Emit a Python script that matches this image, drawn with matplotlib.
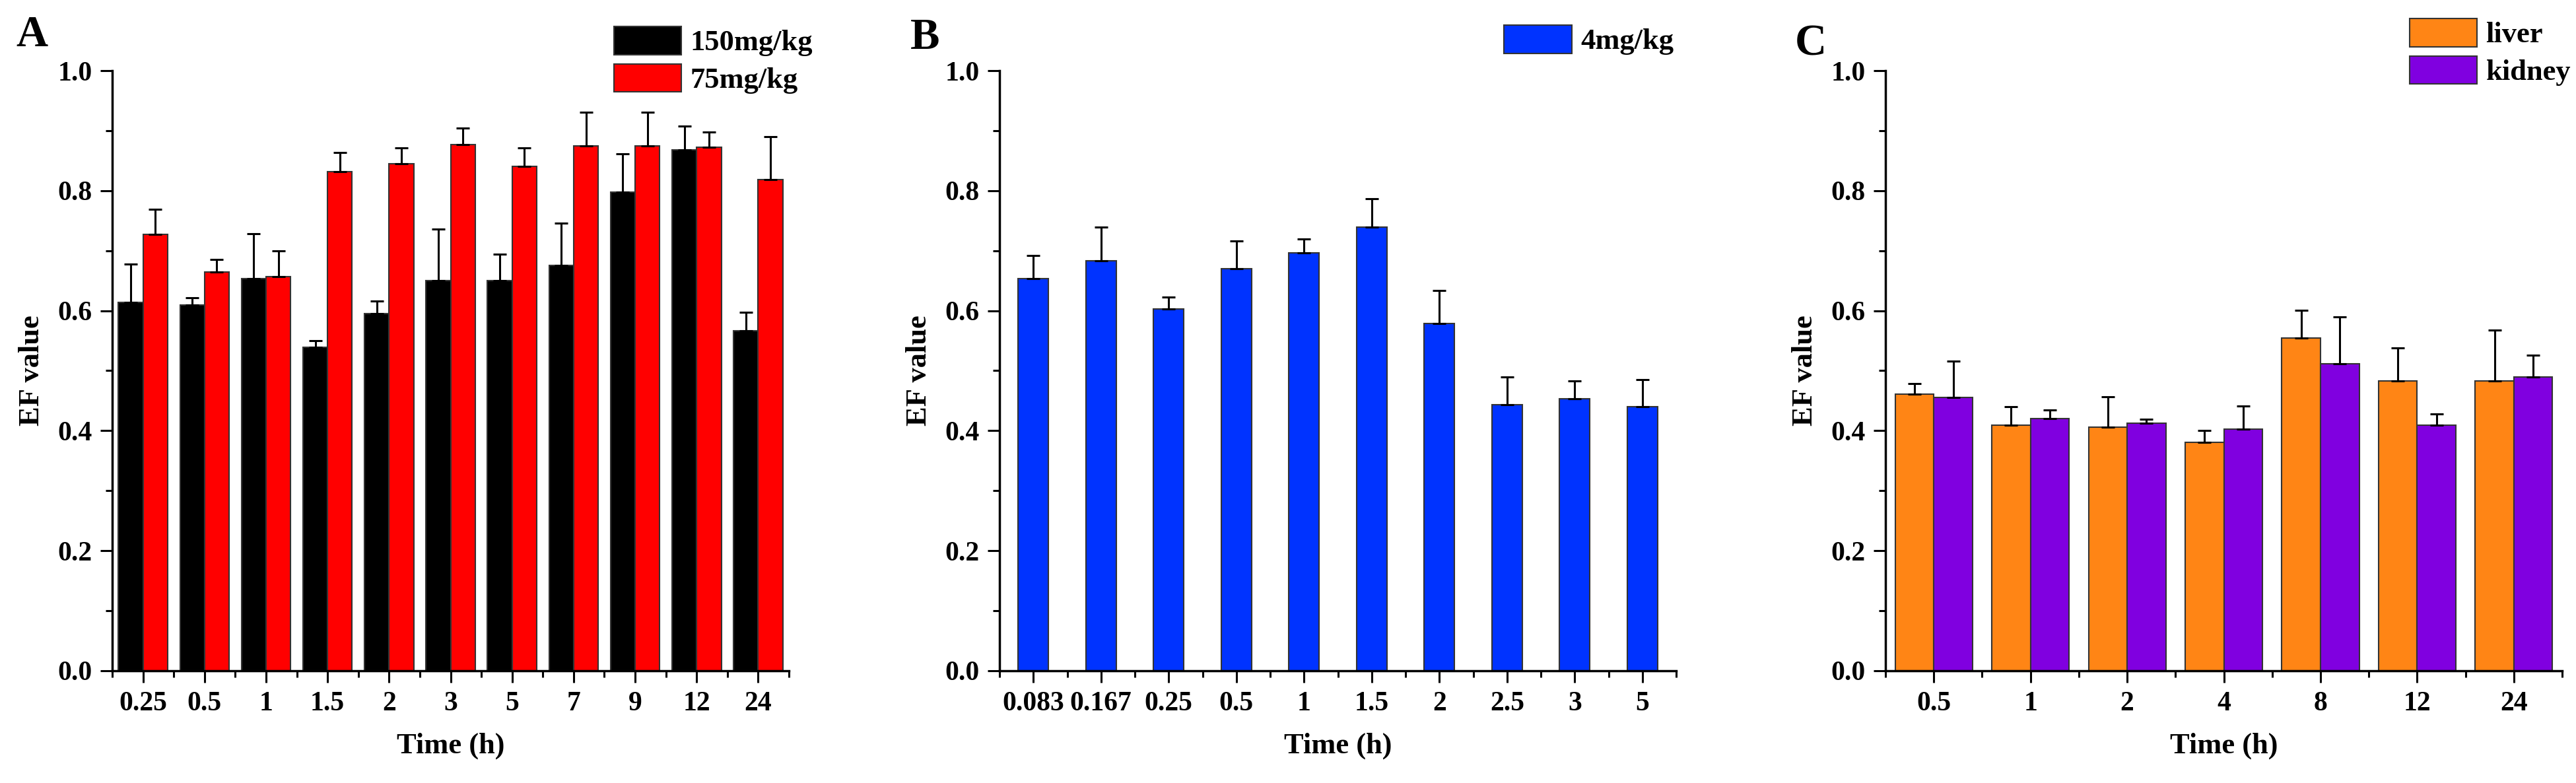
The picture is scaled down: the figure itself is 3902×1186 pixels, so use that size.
import matplotlib
matplotlib.use("Agg")
import matplotlib.pyplot as plt
import numpy as np

plt.rcParams['font.family'] = ['Liberation Serif', 'DejaVu Serif']
plt.rcParams['font.weight'] = 'bold'

# panel A data
times_a = ["0.25", "0.5", "1", "1.5", "2", "3", "5", "7", "9", "12", "24"]
ef_150 = [0.614, 0.609, 0.654, 0.539, 0.595, 0.650, 0.650, 0.675, 0.798, 0.868, 0.567]
err_150 = [0.064, 0.013, 0.074, 0.011, 0.021, 0.086, 0.044, 0.071, 0.063, 0.040, 0.030]
ef_75 = [0.727, 0.665, 0.657, 0.832, 0.845, 0.877, 0.840, 0.875, 0.875, 0.872, 0.818]
err_75 = [0.042, 0.020, 0.043, 0.032, 0.026, 0.027, 0.031, 0.056, 0.056, 0.026, 0.072]

# panel B data
times_b = ["0.083", "0.167", "0.25", "0.5", "1", "1.5", "2", "2.5", "3", "5"]
ef_4 = [0.654, 0.683, 0.603, 0.670, 0.696, 0.739, 0.579, 0.443, 0.453, 0.440]
err_4 = [0.038, 0.056, 0.020, 0.046, 0.024, 0.048, 0.055, 0.047, 0.030, 0.045]

# panel C data
times_c = ["0.5", "1", "2", "4", "8", "12", "24"]
ef_liver = [0.461, 0.409, 0.406, 0.381, 0.555, 0.483, 0.483]
err_liver = [0.018, 0.031, 0.050, 0.019, 0.046, 0.055, 0.085]
ef_kidney = [0.455, 0.420, 0.413, 0.403, 0.512, 0.409, 0.490]
err_kidney = [0.061, 0.015, 0.006, 0.038, 0.078, 0.019, 0.036]

W, H = 3902, 1186
fig = plt.figure(figsize=(W / 100, H / 100), dpi=100)

bottom = (H - 1016) / H
height = 909 / H
width = 1025 / W

edge = '#333333'
ekw = dict(elinewidth=2.2, capthick=2.2, ecolor='black')


def style_axis(ax, labels):
    n = len(labels)
    ax.set_xlim(-0.5, n - 0.5)
    ax.set_ylim(0, 1.0)
    ax.set_xticks(np.arange(n))
    ax.set_xticklabels(labels)
    ax.set_xticks(np.arange(n + 1) - 0.5, minor=True)
    ax.set_yticks(np.arange(0, 1.01, 0.2))
    ax.set_yticks(np.arange(0.1, 1.0, 0.2), minor=True)
    ax.yaxis.set_major_formatter(matplotlib.ticker.FormatStrFormatter('%.1f'))
    for s in ['top', 'right']:
        ax.spines[s].set_visible(False)
    for s in ['left', 'bottom']:
        ax.spines[s].set_linewidth(2.5)
    ax.tick_params(which='major', direction='out', length=13, width=2.2,
                   labelsize=30, pad=9)
    ax.tick_params(which='minor', direction='out', length=7, width=2.2)
    ax.set_xlabel("Time (h)", fontsize=32, fontweight='bold', labelpad=18)
    ax.set_ylabel("EF value", fontsize=32, fontweight='bold', labelpad=14)


def add_legend(ax, anchor):
    ax.legend(loc='upper right', bbox_to_anchor=anchor, bbox_transform=fig.transFigure,
              frameon=False, borderaxespad=0, borderpad=0, fontsize=32,
              handlelength=2.3, handleheight=1.1, labelspacing=0.25,
              handletextpad=0.3, prop={'weight': 'bold', 'size': 32})


# A
axA = fig.add_axes([170 / W, bottom, width, height])
xa = np.arange(len(times_a))
axA.bar(xa - 0.2, ef_150, 0.4, color='black', edgecolor=edge, linewidth=1.5,
        yerr=[np.zeros(len(xa)), err_150], capsize=7, error_kw=ekw, label='150mg/kg')
axA.bar(xa + 0.2, ef_75, 0.4, color='#FF0000', edgecolor=edge, linewidth=1.5,
        yerr=[np.zeros(len(xa)), err_75], capsize=7, error_kw=ekw, label='75mg/kg')
style_axis(axA, times_a)
add_legend(axA, (1231 / W, 1 - 40 / H))

# B
axB = fig.add_axes([1514 / W, bottom, width, height])
xb = np.arange(len(times_b))
axB.bar(xb, ef_4, 0.45, color='#0033FF', edgecolor=edge, linewidth=1.5,
        yerr=[np.zeros(len(xb)), err_4], capsize=7, error_kw=ekw, label='4mg/kg')
style_axis(axB, times_b)
add_legend(axB, (2535 / W, 1 - 38 / H))

# C
axC = fig.add_axes([2856 / W, bottom, width, height])
xc = np.arange(len(times_c))
axC.bar(xc - 0.2, ef_liver, 0.4, color='#FF8515', edgecolor=edge, linewidth=1.5,
        yerr=[np.zeros(len(xc)), err_liver], capsize=7, error_kw=ekw, label='liver')
axC.bar(xc + 0.2, ef_kidney, 0.4, color='#8000E0', edgecolor=edge, linewidth=1.5,
        yerr=[np.zeros(len(xc)), err_kidney], capsize=7, error_kw=ekw, label='kidney')
style_axis(axC, times_c)
add_legend(axC, (3894 / W, 1 - 28 / H))

# panel letters
for letter, (px, py) in zip("ABC", [(48, 54), (1401, 57), (2743, 67)]):
    fig.text(px / W, 1 - py / H, letter, fontsize=48, fontweight='bold',
             ha='center', va='center')

fig.savefig("out.png", dpi=100)
